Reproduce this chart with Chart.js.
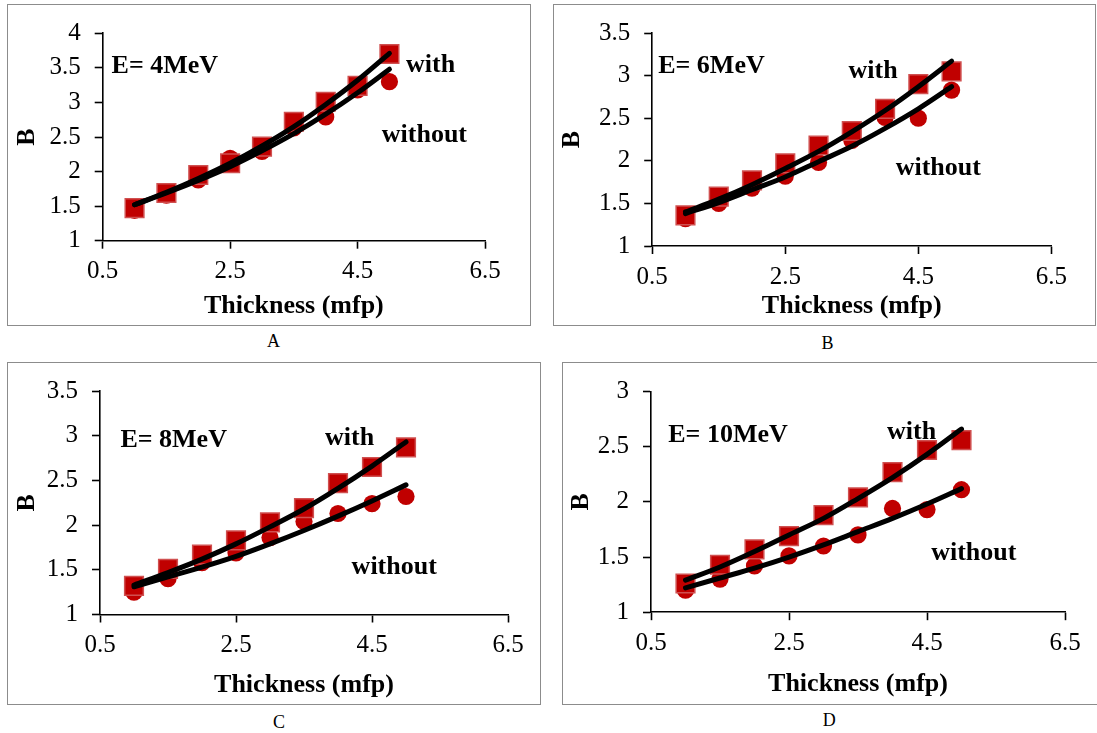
<!DOCTYPE html>
<html>
<head>
<meta charset="utf-8">
<script src="https://cdn.jsdelivr.net/npm/chart.js@4.4.1/dist/chart.umd.min.js"></script>
<style>
html,body{margin:0;padding:0;background:#fff;}
body{width:1097px;height:733px;overflow:hidden;position:relative;font-family:"Liberation Serif","Times New Roman",serif;}
.frame{position:absolute;border:1.5px solid #8c8c8c;box-sizing:border-box;}
canvas{position:absolute;}
.cap{position:absolute;font-size:18px;line-height:18px;transform:translate(-50%,-50%);color:#000;}
</style>
</head>
<body>
<script>
// ---------------- DATA ----------------
const thickness = [1, 1.5, 2, 2.5, 3, 3.5, 4, 4.5, 5];
const xTickValues = [0.5, 2.5, 4.5, 6.5];
const panelLetters = ['A', 'B', 'C', 'D'];
const energyLabels = ['E= 4MeV', 'E= 6MeV', 'E= 8MeV', 'E= 10MeV'];
const withLabel = 'with';
const withoutLabel = 'without';
const xTitle = 'Thickness (mfp)';
const yTitle = 'B';

// E = 4 MeV
const withA      = [1.47, 1.69, 1.95, 2.12, 2.36, 2.72, 3.01, 3.24, 3.70];
const withoutA   = [1.44, 1.66, 1.88, 2.19, 2.29, 2.63, 2.79, 3.18, 3.30];
const trendWithA    = [1.52, 1.70, 1.90, 2.12, 2.37, 2.65, 2.97, 3.32, 3.71];
const trendWithoutA = [1.52, 1.69, 1.87, 2.07, 2.30, 2.55, 2.83, 3.14, 3.48];
const yTicksA = [1, 1.5, 2, 2.5, 3, 3.5, 4];

// E = 6 MeV
const withB      = [1.36, 1.58, 1.77, 1.97, 2.18, 2.35, 2.61, 2.90, 3.05];
const withoutB   = [1.32, 1.50, 1.68, 1.82, 1.98, 2.24, 2.51, 2.50, 2.83];
const trendWithB    = [1.40, 1.55, 1.72, 1.91, 2.11, 2.34, 2.59, 2.87, 3.17];
const trendWithoutB = [1.38, 1.51, 1.66, 1.81, 1.99, 2.17, 2.38, 2.61, 2.87];
const yTicksB = [1, 1.5, 2, 2.5, 3, 3.5];

// E = 8 MeV
const withC      = [1.32, 1.51, 1.67, 1.83, 2.03, 2.19, 2.47, 2.65, 2.87];
const withoutC   = [1.25, 1.40, 1.58, 1.69, 1.86, 2.04, 2.13, 2.24, 2.32];
const trendWithC    = [1.33, 1.47, 1.62, 1.79, 1.98, 2.18, 2.41, 2.66, 2.93];
const trendWithoutC = [1.31, 1.42, 1.53, 1.65, 1.79, 1.94, 2.10, 2.27, 2.45];
const yTicksC = [1, 1.5, 2, 2.5, 3, 3.5];

// E = 10 MeV
const withD      = [1.26, 1.43, 1.57, 1.69, 1.88, 2.04, 2.27, 2.47, 2.56];
const withoutD   = [1.20, 1.30, 1.42, 1.51, 1.60, 1.70, 1.94, 1.93, 2.11];
const trendWithD    = [1.29, 1.41, 1.55, 1.70, 1.85, 2.03, 2.22, 2.43, 2.66];
const trendWithoutD = [1.22, 1.31, 1.40, 1.50, 1.61, 1.73, 1.85, 1.98, 2.12];
const yTicksD = [1, 1.5, 2, 2.5, 3];

// ---------------- LAYOUT (page pixels) ----------------
const panels = [
  {withV: withA, withoutV: withoutA, tW: trendWithA, tWo: trendWithoutA, yTicks: yTicksA,
   box: [7, 4, 531, 326], area: [102.7, 485, 240.7, 33.3], xTitleY: 306.7, yTitleX: 27.5, cap: [273.5, 341],
   notes: [[0.64, 3.52], [5.26, 3.54], [4.88, 2.53]]},
  {withV: withB, withoutV: withoutB, tW: trendWithB, tWo: trendWithoutB, yTicks: yTicksB,
   box: [553, 4, 1096, 326], area: [652.2, 1051.4, 246, 31.7], xTitleY: 306.7, yTitleX: 572.7, cap: [827.4, 343],
   notes: [[0.59, 3.11], [3.45, 3.05], [4.16, 1.91]]},
  {withV: withC, withoutV: withoutC, tW: trendWithC, tWo: trendWithoutC, yTicks: yTicksC,
   box: [7, 361.5, 541, 705], area: [100, 508, 614, 388.3], xTitleY: 685, yTitleX: 27.5, cap: [279, 721.5],
   notes: [[0.80, 2.95], [3.81, 2.97], [4.20, 1.53]]},
  {withV: withD, withoutV: withoutD, tW: trendWithD, tWo: trendWithoutD, yTicks: yTicksD,
   box: [562, 361.5, 1110, 705], area: [651, 1065, 611.7, 391], xTitleY: 683.3, yTitleX: 581.4, cap: [829.3, 719.5],
   notes: [[0.75, 2.60], [3.92, 2.63], [4.56, 1.53]]}
];

const FONT = '"Liberation Serif", "Times New Roman", serif';
const RED = '#C00000';

const notesPlugin = {
  id: 'notes',
  beforeDatasetsDraw(chart, args, opts) {
    const ctx = chart.ctx;
    ctx.save();
    ctx.fillStyle = '#000';
    ctx.font = 'bold 26px ' + FONT;
    ctx.textAlign = 'left';
    ctx.textBaseline = 'middle';
    (opts.items || []).forEach(it => {
      const px = chart.scales.x.getPixelForValue(it.x);
      const py = chart.scales.y.getPixelForValue(it.y);
      ctx.fillText(it.text, px, py);
    });
    ctx.restore();
  }
};

function pts(arr) { return thickness.map((x, i) => ({x: x, y: arr[i]})); }

panels.forEach((p, idx) => {
  const [l, t, r, b] = p.box;
  const [x0, x1, yB, yT] = p.area;
  const W = Math.round(r - l), H = Math.round(b - t);

  const frame = document.createElement('div');
  frame.className = 'frame';
  frame.style.left = l + 'px'; frame.style.top = t + 'px';
  frame.style.width = (r - l) + 'px'; frame.style.height = (b - t) + 'px';
  document.body.appendChild(frame);

  const cv = document.createElement('canvas');
  cv.width = W; cv.height = H;
  cv.style.left = l + 'px'; cv.style.top = t + 'px';
  cv.style.width = W + 'px'; cv.style.height = H + 'px';
  document.body.appendChild(cv);

  const cap = document.createElement('div');
  cap.className = 'cap';
  cap.textContent = panelLetters[idx];
  cap.style.left = p.cap[0] + 'px'; cap.style.top = p.cap[1] + 'px';
  document.body.appendChild(cap);

  const titleHalf = 26 * 1.2 / 2;
  const yAxisW = x0 - l;
  const xAxisH = p.xTitleY + titleHalf - yB;
  const padTop = yT - t;
  const padRight = W - (x1 - l);
  const padBottom = Math.max(0, H - (yB - t) - xAxisH);
  const yTitlePad = (p.yTitleX - l) - titleHalf;

  const tickCommon = {color: '#000', font: {family: FONT, size: 25}};

  new Chart(cv, {
    type: 'scatter',
    data: {
      datasets: [
        {label: 'trend with', data: pts(p.tW), showLine: true, pointRadius: 0, borderColor: '#000',
         borderWidth: 5, borderCapStyle: 'round', cubicInterpolationMode: 'monotone', order: 0},
        {label: 'trend without', data: pts(p.tWo), showLine: true, pointRadius: 0, borderColor: '#000',
         borderWidth: 5, borderCapStyle: 'round', cubicInterpolationMode: 'monotone', order: 0},
        {label: withLabel, data: pts(p.withV), pointStyle: 'rect', pointRadius: 13.2,
         backgroundColor: RED, borderColor: '#d05050', borderWidth: 1.5, order: 1},
        {label: withoutLabel, data: pts(p.withoutV), pointStyle: 'circle', pointRadius: 8.6,
         backgroundColor: RED, borderColor: RED, borderWidth: 0, order: 2}
      ]
    },
    options: {
      responsive: false,
      animation: false,
      devicePixelRatio: 1,
      layout: {padding: {left: 0, top: padTop, right: padRight, bottom: padBottom}},
      plugins: {
        legend: {display: false},
        tooltip: {enabled: false},
        notes: {items: [
          {text: energyLabels[idx], x: p.notes[0][0], y: p.notes[0][1]},
          {text: withLabel, x: p.notes[1][0], y: p.notes[1][1]},
          {text: withoutLabel, x: p.notes[2][0], y: p.notes[2][1]}
        ]}
      },
      elements: {point: {hoverRadius: 0}},
      scales: {
        x: {
          type: 'linear', min: xTickValues[0], max: xTickValues[xTickValues.length - 1],
          afterBuildTicks: s => { s.ticks = xTickValues.map(v => ({value: v})); },
          afterFit: s => { s.height = xAxisH; },
          border: {color: '#000', width: 1.6},
          grid: {drawOnChartArea: false, drawTicks: true, tickLength: 8, tickColor: '#000', tickWidth: 1.6},
          ticks: Object.assign({padding: 8, maxRotation: 0, autoSkip: false, callback: v => String(v)}, tickCommon),
          title: {display: true, text: xTitle, color: '#000', font: {family: FONT, size: 26, weight: 'bold'},
                  padding: {top: 0, bottom: 0}}
        },
        y: {
          type: 'linear', min: p.yTicks[0], max: p.yTicks[p.yTicks.length - 1],
          afterBuildTicks: s => { s.ticks = p.yTicks.map(v => ({value: v})); },
          afterFit: s => { s.width = yAxisW; },
          border: {color: '#000', width: 1.6},
          grid: {drawOnChartArea: false, drawTicks: true, tickLength: 8, tickColor: '#000', tickWidth: 1.6},
          ticks: Object.assign({padding: 14, autoSkip: false, callback: v => String(v)}, tickCommon),
          title: {display: true, text: yTitle, color: '#000', font: {family: FONT, size: 26, weight: 'bold'},
                  padding: {top: yTitlePad, bottom: 0}}
        }
      }
    },
    plugins: [notesPlugin]
  });
});
</script>
</body>
</html>
